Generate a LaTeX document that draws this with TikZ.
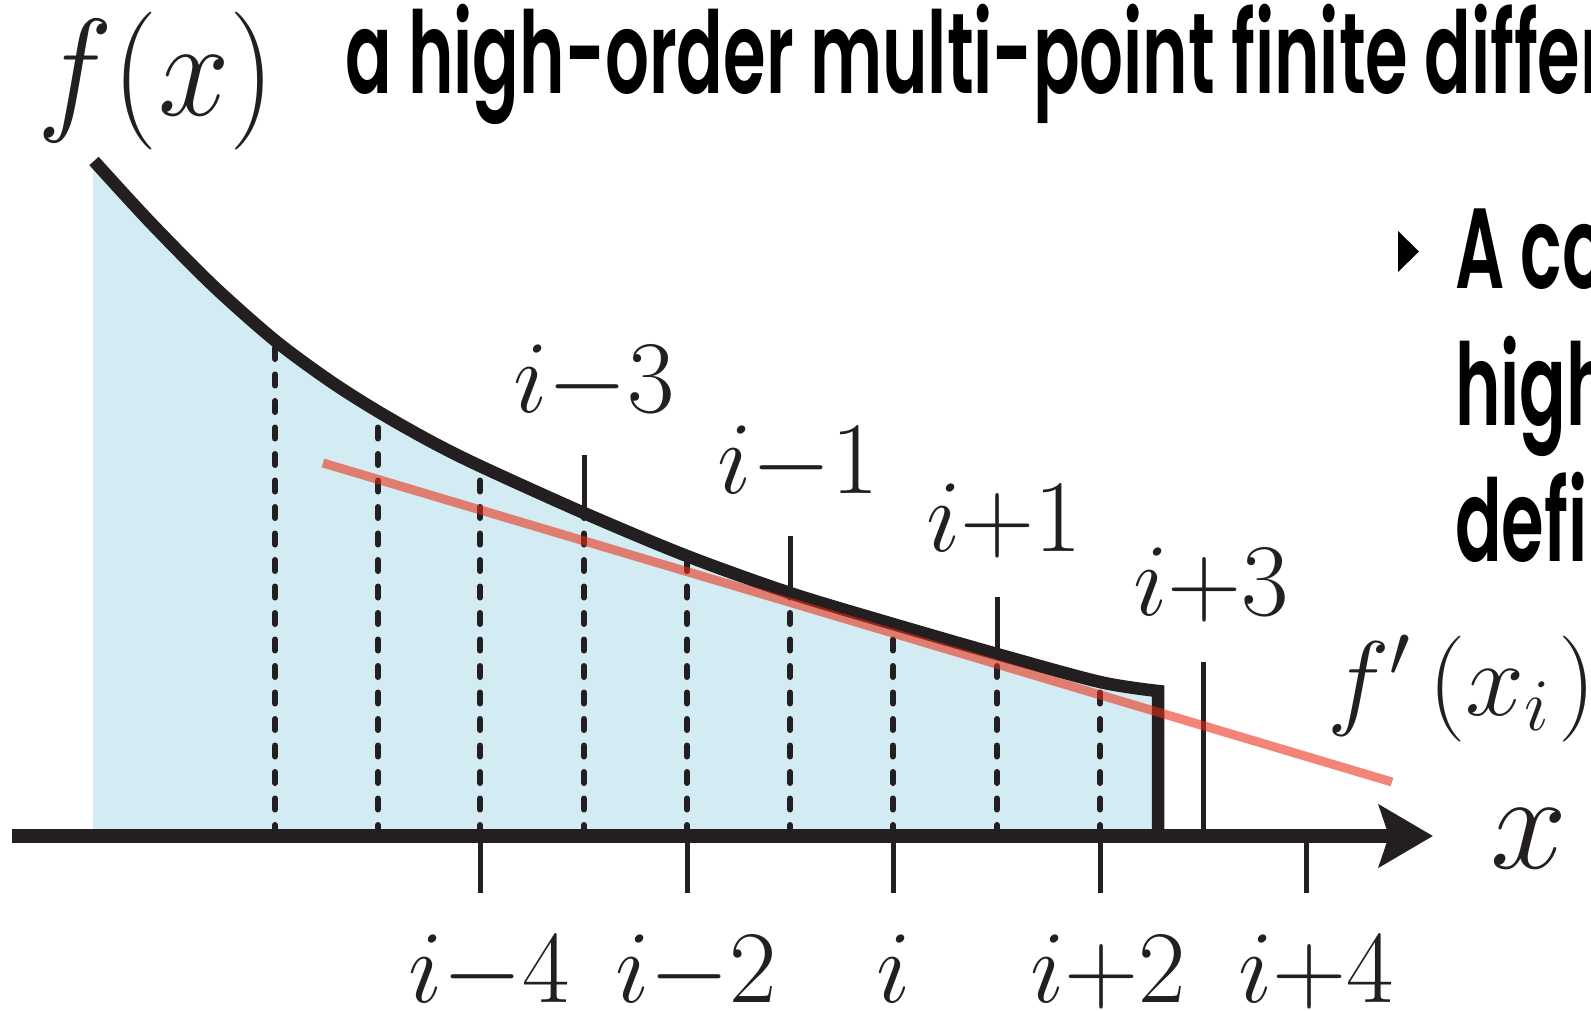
\RequirePackage{fix-cm}
\documentclass[tikz,border=0pt]{standalone}
\usepackage{fontspec}
\usetikzlibrary{arrows.meta}
\newfontfamily\condfont{Poppins SemiBold}[FakeStretch=0.604]
\definecolor{fillblue}{RGB}{211,236,243}
\definecolor{inkblack}{RGB}{35,31,32}
\definecolor{tanred}{RGB}{232,45,20}
\begin{document}
\begin{tikzpicture}[x=1pt,y=-1pt,
  curveline/.style={draw=inkblack,line width=12.5pt,line join=miter},
  dashv/.style={draw=inkblack,line width=6pt,line cap=round,dash pattern=on 11pt off 15.5pt},
  tickline/.style={draw=inkblack,line width=5pt},
  axisline/.style={draw=inkblack,line width=13.5pt},
  tanline/.style={draw=tanred,line width=9pt,draw opacity=0.58},
  lbl/.style={inner sep=0pt,anchor=base,text=inkblack,font={\fontsize{103}{103}\selectfont}},
  biglbl/.style={inner sep=0pt,anchor=base,text=inkblack,font={\fontsize{138}{138}\selectfont}},
  titletxt/.style={inner sep=0pt,anchor=base west,font={\fontsize{114}{114}\selectfont\condfont}},
  sidetxt/.style={inner sep=0pt,anchor=base west,font={\fontsize{114}{114}\selectfont\condfont}}
]
\useasboundingbox (0,0) rectangle (1591,1011);
\clip (0,0) rectangle (1591,1011);

% curve points
\foreach \n/\x/\y in {0/94/161,1/150/222,2/213/285.6,3/275/340.5,4/330/381,5/378/411.5,6/430/441,7/480/466,8/584/513,9/687/556,10/790/593,11/893/624,12/997/654,13/1100/682,14/1158/691}
  \coordinate (c\n) at (\x,\y);
\coordinate (axref) at (0,836);
\coordinate (fbl) at (93,836);
\coordinate (fbr) at (1158,836);

% fill under curve
\fill[fillblue] (fbl) -- (93,166) -- plot[smooth] coordinates {(c0) (c1) (c2) (c3) (c4) (c5) (c6) (c7) (c8) (c9) (c10) (c11) (c12) (c13) (c14)} -- (fbr) -- cycle;

% dashed verticals
\foreach \n in {3,5,7,8,9,10,11,12,13}
  \draw[dashv] (c\n |- axref) -- (c\n);

% ticks below the axis
\foreach \n/\x in {m4/480,m2/687,z/893,p2/1100,p4/1306}{
  \coordinate (bt\n) at (\x,836);
  \coordinate (bb\n) at (\x,893);
  \draw[tickline] (bt\n) -- (bb\n);
}
% ticks above the curve
\coordinate (tm3) at (584,455);
\coordinate (tm1) at (790,536);
\coordinate (tp1) at (997,597);
\coordinate (tp3) at (1203,662);
\coordinate (tp3b) at (1203,836);
\draw[tickline] (tm3) -- (c8);
\draw[tickline] (tm1) -- (c10);
\draw[tickline] (tp1) -- (c12);
\draw[tickline] (tp3) -- (tp3b);

% curve
\draw[curveline] plot[smooth] coordinates {(c0) (c1) (c2) (c3) (c4) (c5) (c6) (c7) (c8) (c9) (c10) (c11) (c12) (c13) (c14)} -- (fbr);

% axis
\coordinate (axL) at (12,836);
\coordinate (axR) at (1433,836);
\draw[axisline,-{Stealth[length=54pt,width=62pt,inset=10pt]}] (axL) -- (axR);

% tangent line
\coordinate (tanA) at (323,463);
\coordinate (tanB) at (1392,782);
\draw[tanline] (tanA) -- (tanB);

% labels
\node[biglbl,anchor=base west] (fx) at (37,116) {\scalebox{0.93}[1]{$f(x)$}};
\node[biglbl] (xl) at (1529,868) {$x$};
\node[lbl,anchor=base west,font={\fontsize{106}{106}\selectfont}] (fp) at (1327,715) {$f'\mkern3mu(x_i\mkern1.5mu)$};

\node[lbl] (lm3) at (594,412) {$i{-}3$};
\node[lbl] (lm1) at (798,493) {$i{-}1$};
\node[lbl] (lp1) at (1004,551) {$i{+}1$};
\node[lbl] (lp3) at (1211,615) {$i{+}3$};

\node[lbl] (lm4) at (489,1002) {$i{-}4$};
\node[lbl] (lm2) at (696,1002) {$i{-}2$};
\node[lbl] (lz) at (894,1002) {$i$};
\node[lbl] (lp2) at (1108,1002) {$i{+}2$};
\node[lbl] (lp4) at (1316,1002) {$i{+}4$};

% title and side text
\node[titletxt] (title) at (345,94) {a high-order multi-point finite differ};
\fill (1398,231) -- (1419,251.5) -- (1398,272) -- cycle;
\node[sidetxt] (s1) at (1455,289) {A co};
\node[sidetxt] (s2) at (1455,425) {high};
\node[sidetxt] (s3) at (1455,561) {defi};
\end{tikzpicture}
\end{document}
